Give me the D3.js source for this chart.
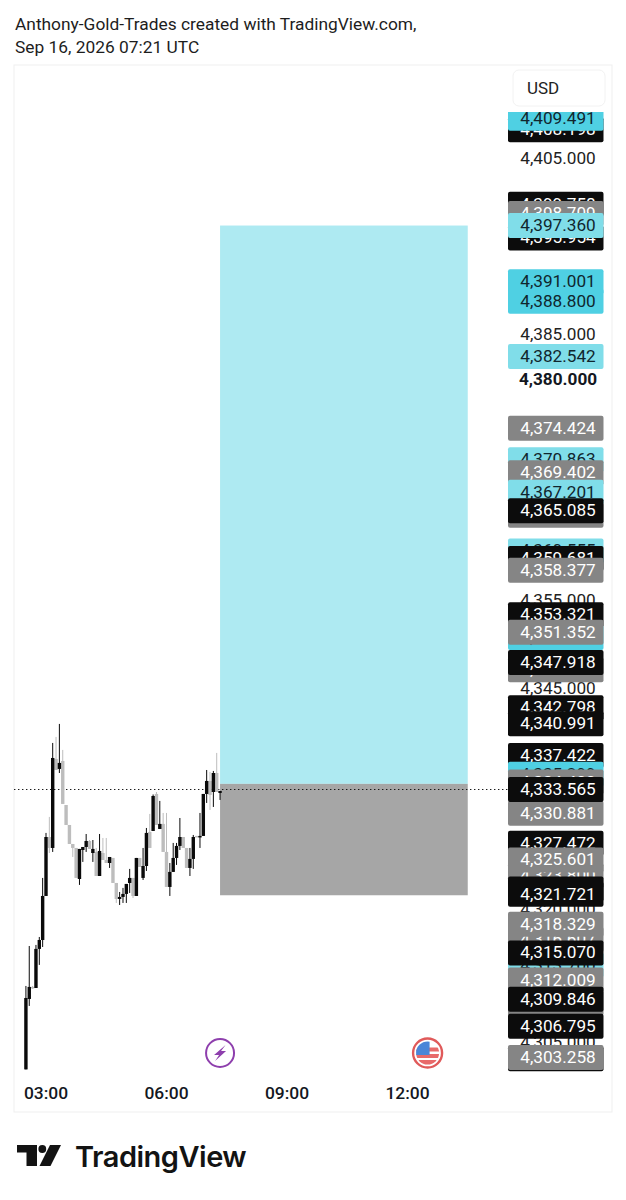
<!DOCTYPE html>
<html><head><meta charset="utf-8">
<script src="https://cdn.jsdelivr.net/npm/d3@7"></script>
<style>html,body{margin:0;padding:0;background:#fff}svg{display:block}text{font-family:Roboto,sans-serif}</style>
</head><body><svg id="c" width="626" height="1200"></svg>
<script>
// Candles, 5-minute bars starting 02:30
const startMinutes = 150, barMinutes = 5;
const opens = [4301.9,4309.87,4311.23,4311.11,4315.53,4316.54,4321.52,4328.19,4326.95,4337.02,4335.89,4336.79,4331.81,4329.55,4327.4,4326.95,4323.44,4326.72,4327.06,4327.74,4326.38,4326.5,4323.78,4326.38,4325.59,4325.25,4325.82,4322.99,4321.18,4321.41,4321.75,4322.99,4323.56,4321.52,4325.82,4323.56,4324.91,4328.76,4328.87,4333.06,4329.1,4329.67,4326.5,4322.54,4324.24,4325.82,4327.18,4328.19,4326.95,4324.69,4325.71,4328.31,4328.19,4328.31,4333.06,4334.53,4333.28,4335.43,4333.17];
const closes = [4309.98,4311.23,4311.11,4315.53,4316.54,4321.52,4328.19,4326.95,4337.13,4335.77,4336.57,4331.93,4329.55,4327.4,4326.95,4323.56,4326.84,4327.06,4327.74,4326.84,4326.84,4323.78,4326.61,4325.59,4325.25,4325.93,4322.99,4321.18,4321.41,4321.75,4322.88,4323.56,4321.52,4325.82,4324.8,4324.91,4328.65,4326.95,4332.83,4329.55,4329.67,4326.5,4322.54,4324.24,4325.82,4327.18,4328.19,4326.95,4324.69,4325.71,4328.19,4328.19,4328.31,4333.06,4334.53,4332.95,4335.43,4333.28,4333.4];
const highs = [4311.34,4315.86,4311.34,4315.98,4316.88,4323.56,4328.65,4330.46,4338.83,4339.51,4340.98,4338.04,4331.81,4329.55,4327.4,4326.95,4326.84,4327.06,4328.53,4327.85,4327.85,4326.95,4328.53,4328.08,4328.08,4325.93,4325.82,4322.99,4321.97,4322.43,4322.88,4324.58,4323.56,4325.82,4325.82,4326.95,4329.21,4330.8,4333.0,4333.28,4332.27,4330.91,4330.91,4325.25,4327.52,4327.52,4330.34,4328.19,4326.95,4326.95,4328.42,4328.31,4330.91,4333.06,4335.77,4335.55,4335.66,4337.7,4333.4];
const lows = [4301.9,4309.08,4311.0,4311.11,4313.72,4315.75,4321.52,4326.38,4326.5,4335.77,4335.43,4331.93,4329.55,4327.4,4325.93,4323.56,4322.77,4325.37,4326.5,4326.84,4325.37,4323.78,4323.78,4325.59,4325.25,4324.69,4322.99,4320.73,4320.5,4320.73,4320.73,4321.86,4321.29,4321.52,4324.8,4323.33,4324.35,4326.95,4328.87,4329.55,4329.1,4326.5,4322.54,4321.52,4324.24,4325.03,4326.72,4326.95,4324.69,4323.78,4324.58,4328.19,4326.95,4328.31,4332.04,4331.25,4331.59,4333.28,4332.38];

// Position tool
const toolStart = 440, toolEnd = 810;
const toolTarget = 4397.36, toolEntry = 4334.2, toolStop = 4321.6;
const lastPrice = 4333.565;

// Price-scale labels, in paint order (k plain, B bold, b black, g gray, c light cyan, d strong cyan)
const labelValues = [4405,4385,4380,4375,4355,4345,4320,4305,
 4408.198,4409.491,4399.758,4398.709,4395.954,4397.36,4391.001,4388.8,4382.542,4374.424,
 4370.863,4369.402,4367.201,4364.6,4365.085,4360.555,4359.681,4358.377,4353.321,4350.75,4351.352,4347.1,4347.918,
 4342.798,4340.991,4337.422,4335.299,4334.4,4330.881,4333.565,4327.472,4323.8,4325.601,4322.3,4321.721,
 4316.607,4318.329,4313.7,4312.009,4315.07,4309.4,4309.846,4306.795,4303.1,4303.258];
const labelKinds = ["k","k","B","k","k","k","k","k",
 "b","d","b","g","b","c","d","d","c","g",
 "c","g","c","g","b","c","b","g","b","d","g","g","b",
 "b","b","b","d","g","g","b","b","g","g","b","b",
 "g","g","c","g","b","g","b","b","b","g"];
const kindFill = {b:"#0c0c0c",g:"#858585",c:"#80dde9",d:"#4fd0e3"};
const kindText = {b:"#ffffff",g:"#ffffff",c:"#10262e",d:"#10262e",k:"#222222",B:"#131722"};

const timeTicks = [180,360,540,720];
const eventMinutes = [440,750];

const svg = d3.select("#c");
const x = d3.scaleLinear().domain([180,720]).range([46,407.5]);
const y = d3.scaleLinear().domain([4405,4305]).range([158,1042]);

svg.append("defs").append("clipPath").attr("id","scaleClip").append("rect")
  .attr("x",500).attr("y",112).attr("width",112).attr("height",962);
svg.select("defs").append("clipPath").attr("id","flagClip").append("circle").attr("r",11.5);

// header
svg.append("text").attr("x",15).attr("y",30).attr("font-size",17.35).attr("fill","#1d1d1d")
  .text("Anthony-Gold-Trades created with TradingView.com,");
svg.append("text").attr("x",15).attr("y",53).attr("font-size",17.35).attr("fill","#1d1d1d")
  .text("Sep 16, 2026 07:21 UTC");

// frame
svg.append("rect").attr("x",14).attr("y",65).attr("width",598).attr("height",1047)
  .attr("fill","#fff").attr("stroke","#efefef");

// position tool
svg.append("rect").attr("x",x(toolStart)).attr("width",x(toolEnd)-x(toolStart))
  .attr("y",y(toolTarget)).attr("height",y(toolEntry)-y(toolTarget)).attr("fill","#aeeaf2");
svg.append("rect").attr("x",x(toolStart)).attr("width",x(toolEnd)-x(toolStart))
  .attr("y",y(toolEntry)).attr("height",y(toolStop)-y(toolEntry)).attr("fill","#a6a6a6");

// last price line
svg.append("line").attr("x1",14).attr("x2",508).attr("y1",Math.round(y(lastPrice))+0.5).attr("y2",Math.round(y(lastPrice))+0.5)
  .attr("stroke","#1a1a1a").attr("stroke-width",1.2).attr("stroke-dasharray","1.4,2.6");

// candles
const candles = opens.map((o,i)=>({t:startMinutes+i*barMinutes,o,c:closes[i],h:highs[i],l:lows[i],up:closes[i]>=o}));
const ordered = candles.filter(d=>!d.up).concat(candles.filter(d=>d.up));
const cg = svg.append("g").selectAll("g").data(ordered).join("g");
const col = d=>d.up?"#0a0a0a":"#bdbdbd";
cg.append("line").attr("x1",d=>x(d.t)).attr("x2",d=>x(d.t)).attr("y1",d=>y(d.h)).attr("y2",d=>y(d.l))
  .attr("stroke",col).attr("stroke-width",1);
cg.append("rect").attr("x",d=>x(d.t)-1.7).attr("width",3.4)
  .attr("y",d=>y(Math.max(d.o,d.c))).attr("height",d=>Math.max(1.5,Math.abs(y(d.o)-y(d.c)))).attr("fill",col);

// USD box
svg.append("rect").attr("x",513).attr("y",70).attr("width",92).attr("height",36).attr("rx",6)
  .attr("fill","#fff").attr("stroke","#f2f2f2");
svg.append("text").attr("x",527).attr("y",94).attr("font-size",17).attr("fill","#222").text("USD");

// price labels
const lab = svg.append("g").attr("clip-path","url(#scaleClip)").selectAll("g")
  .data(labelValues.map((v,i)=>({v,k:labelKinds[i]}))).join("g")
  .attr("transform",d=>`translate(0,${y(d.v)})`);
lab.filter(d=>kindFill[d.k]).append("rect").attr("x",508).attr("y",-12.5).attr("width",95.5).attr("height",25)
  .attr("rx",2).attr("fill",d=>kindFill[d.k]);
lab.append("text").attr("x",558).attr("y",5.5).attr("text-anchor","middle").attr("font-size",17.2)
  .attr("font-weight",d=>d.k==="B"?700:400).attr("fill",d=>kindText[d.k])
  .text(d=>d3.format(",.3f")(d.v));

// time axis
const ax = svg.append("g").attr("transform","translate(0,1080)")
  .call(d3.axisBottom(x).tickValues(timeTicks).tickSize(0)
    .tickFormat(m=>d3.format("02d")(Math.floor(m/60))+":"+d3.format("02d")(m%60)));
ax.select(".domain").remove();
ax.selectAll("text").attr("font-family","Roboto,sans-serif").attr("font-size",17.4).attr("font-weight",500)
  .attr("fill","#131722").attr("dy",0).attr("y",19).attr("dx",-0.5);

// event markers
const e1 = svg.append("g").attr("transform",`translate(${x(eventMinutes[0])},1053)`);
e1.append("circle").attr("r",14).attr("fill","#fff").attr("stroke","#8e3fad").attr("stroke-width",2);
e1.append("path").attr("d","M5.5,-8 L-6,2 L-1,2 L-5,8 L6,-2 L1,-2 Z").attr("fill","#8e3fad");
const e2 = svg.append("g").attr("transform",`translate(${x(eventMinutes[1])},1053)`);
e2.append("circle").attr("r",14.5).attr("fill","#fff").attr("stroke","#e05a5a").attr("stroke-width",2.4);
const fl = e2.append("g").attr("clip-path","url(#flagClip)");
fl.append("rect").attr("x",-12).attr("y",-12).attr("width",24).attr("height",24).attr("fill","#fff");
fl.append("rect").attr("x",-12).attr("y",-5.5).attr("width",24).attr("height",4).attr("fill","#e86a6a");
fl.append("rect").attr("x",-12).attr("y",1).attr("width",24).attr("height",4).attr("fill","#e86a6a");
fl.append("rect").attr("x",-12).attr("y",7).attr("width",24).attr("height",5).attr("fill","#e86a6a");
fl.append("rect").attr("x",-12).attr("y",-12).attr("width",14).attr("height",14).attr("fill","#4a86d8");

// logo
const logo = svg.append("g").attr("fill","#131313");
logo.append("path").attr("d","M17,1145 H37 V1166 H26.5 V1152.5 H17 Z");
logo.append("circle").attr("cx",42.3).attr("cy",1149).attr("r",3.9);
logo.append("path").attr("d","M50,1145 H61 L50.5,1166 H39.5 Z");
svg.append("text").attr("x",75).attr("y",1167).attr("font-size",29).attr("font-weight",600)
  .attr("letter-spacing","-0.5").attr("fill","#131313").style("font-family","Inter,sans-serif").text("TradingView");
</script></body></html>
